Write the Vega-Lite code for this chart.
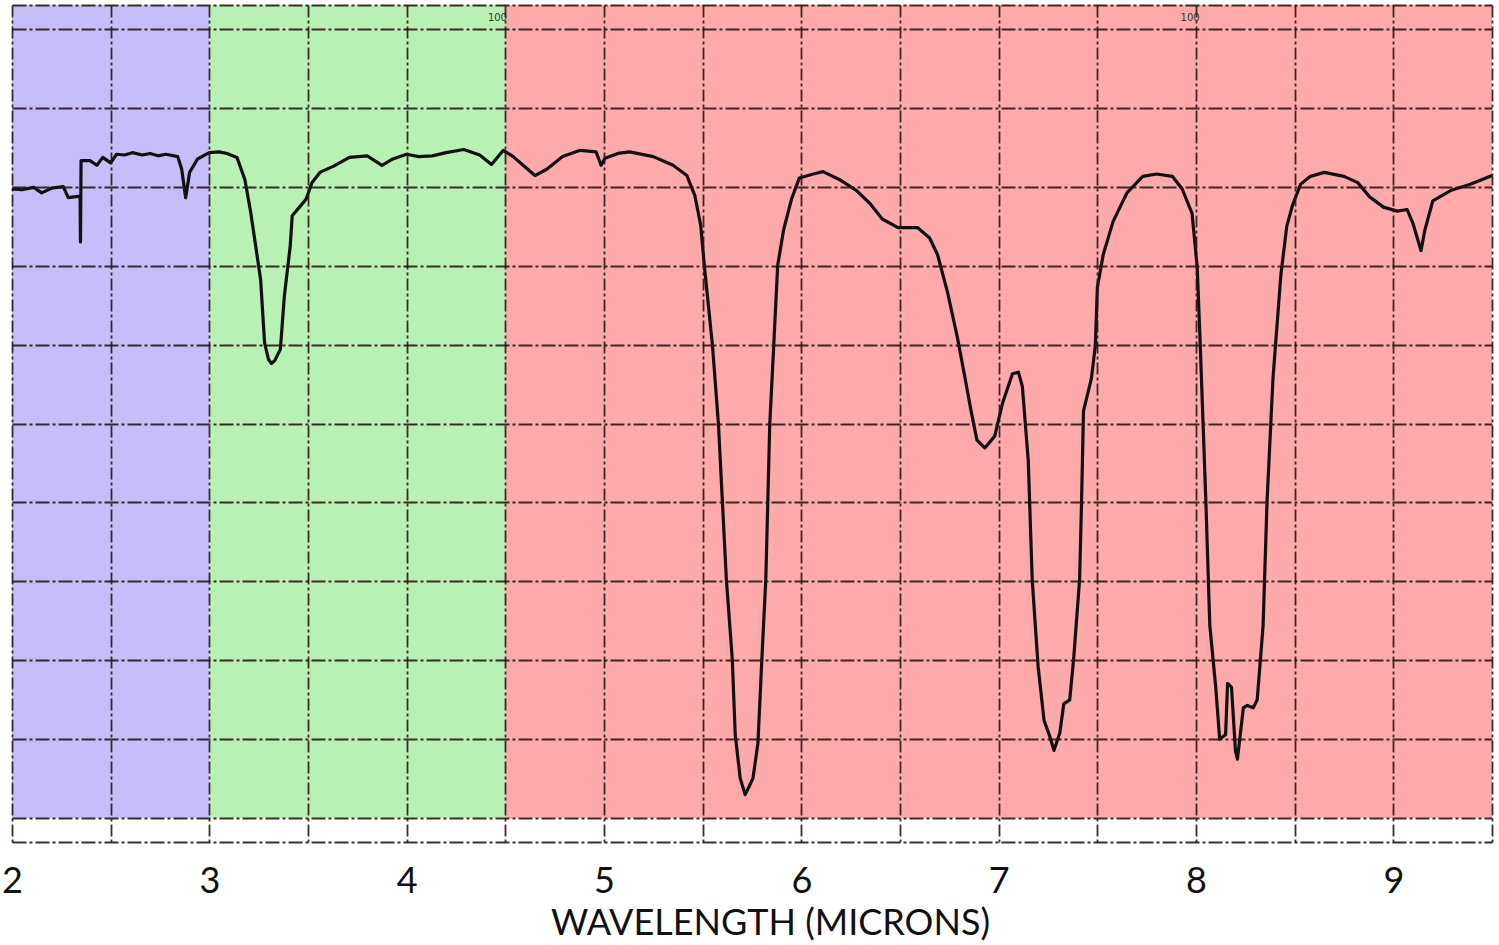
{
  "$schema": "https://vega.github.io/schema/vega-lite/v6.json",
  "width": 1480,
  "height": 837,
  "autosize": {"type": "none"},
  "padding": {"left": 12, "top": 5, "right": 7, "bottom": 103},
  "background": "white",
  "config": {"view": {"stroke": null}},
  "datasets": {
    "bands": [
      {"start": 2.0, "end": 3.0, "lo": 0, "hi": 103, "band": "a"},
      {"start": 3.0, "end": 4.5, "lo": 0, "hi": 103, "band": "b"},
      {"start": 4.5, "end": 9.5, "lo": 0, "hi": 103, "band": "c"}
    ],
    "notes": [
      {"wl": 4.46, "t": 101.3, "label": "100"},
      {"wl": 7.97, "t": 101.3, "label": "100"}
    ],
    "spectrum": [
      {"wl": 2.0, "t": 79.7}, {"wl": 2.05, "t": 79.6}, {"wl": 2.11, "t": 79.9}, {"wl": 2.15, "t": 79.2},
      {"wl": 2.2, "t": 79.8}, {"wl": 2.26, "t": 80.0}, {"wl": 2.285, "t": 78.6}, {"wl": 2.345, "t": 78.8},
      {"wl": 2.347, "t": 73.0}, {"wl": 2.35, "t": 83.3}, {"wl": 2.395, "t": 83.3}, {"wl": 2.43, "t": 82.7},
      {"wl": 2.46, "t": 83.7}, {"wl": 2.5, "t": 83.0}, {"wl": 2.53, "t": 84.1}, {"wl": 2.57, "t": 84.0},
      {"wl": 2.61, "t": 84.3}, {"wl": 2.66, "t": 84.0}, {"wl": 2.7, "t": 84.2}, {"wl": 2.74, "t": 83.9},
      {"wl": 2.78, "t": 84.1}, {"wl": 2.84, "t": 83.8}, {"wl": 2.86, "t": 82.2}, {"wl": 2.88, "t": 78.6},
      {"wl": 2.9, "t": 81.8}, {"wl": 2.94, "t": 83.5}, {"wl": 3.0, "t": 84.3}, {"wl": 3.05, "t": 84.4},
      {"wl": 3.09, "t": 84.2}, {"wl": 3.14, "t": 83.7}, {"wl": 3.18, "t": 80.9}, {"wl": 3.21, "t": 76.7},
      {"wl": 3.23, "t": 73.3}, {"wl": 3.26, "t": 68.2}, {"wl": 3.28, "t": 60.2}, {"wl": 3.3, "t": 58.1},
      {"wl": 3.315, "t": 57.6}, {"wl": 3.33, "t": 57.9}, {"wl": 3.36, "t": 59.4}, {"wl": 3.38, "t": 66.1},
      {"wl": 3.41, "t": 72.5}, {"wl": 3.42, "t": 76.3}, {"wl": 3.46, "t": 77.5}, {"wl": 3.49, "t": 78.4},
      {"wl": 3.52, "t": 80.5}, {"wl": 3.56, "t": 81.8}, {"wl": 3.63, "t": 82.6}, {"wl": 3.71, "t": 83.7},
      {"wl": 3.8, "t": 83.9}, {"wl": 3.875, "t": 82.7}, {"wl": 3.93, "t": 83.5}, {"wl": 4.0, "t": 84.1},
      {"wl": 4.06, "t": 83.8}, {"wl": 4.13, "t": 83.9}, {"wl": 4.2, "t": 84.3}, {"wl": 4.29, "t": 84.7},
      {"wl": 4.37, "t": 84.0}, {"wl": 4.43, "t": 82.8}, {"wl": 4.49, "t": 84.6}, {"wl": 4.54, "t": 83.8},
      {"wl": 4.59, "t": 82.7}, {"wl": 4.65, "t": 81.4}, {"wl": 4.71, "t": 82.2}, {"wl": 4.79, "t": 83.8},
      {"wl": 4.88, "t": 84.6}, {"wl": 4.96, "t": 84.4}, {"wl": 4.985, "t": 82.7}, {"wl": 5.005, "t": 83.6},
      {"wl": 5.07, "t": 84.2}, {"wl": 5.13, "t": 84.4}, {"wl": 5.25, "t": 83.8}, {"wl": 5.35, "t": 82.7},
      {"wl": 5.42, "t": 81.4}, {"wl": 5.46, "t": 78.9}, {"wl": 5.49, "t": 75.1}, {"wl": 5.51, "t": 69.6},
      {"wl": 5.55, "t": 59.8}, {"wl": 5.58, "t": 49.9}, {"wl": 5.6, "t": 40.1}, {"wl": 5.62, "t": 30.3},
      {"wl": 5.65, "t": 20.2}, {"wl": 5.665, "t": 10.6}, {"wl": 5.69, "t": 5.1}, {"wl": 5.715, "t": 3.0},
      {"wl": 5.735, "t": 4.0}, {"wl": 5.755, "t": 5.1}, {"wl": 5.78, "t": 9.5}, {"wl": 5.8, "t": 20.2},
      {"wl": 5.82, "t": 30.3}, {"wl": 5.83, "t": 40.1}, {"wl": 5.84, "t": 49.9}, {"wl": 5.86, "t": 59.8},
      {"wl": 5.88, "t": 70.0}, {"wl": 5.91, "t": 74.5}, {"wl": 5.95, "t": 78.4}, {"wl": 5.99, "t": 81.1},
      {"wl": 6.06, "t": 81.6}, {"wl": 6.11, "t": 81.9}, {"wl": 6.2, "t": 80.8}, {"wl": 6.28, "t": 79.5},
      {"wl": 6.35, "t": 77.8}, {"wl": 6.41, "t": 75.9}, {"wl": 6.49, "t": 74.8}, {"wl": 6.59, "t": 74.8},
      {"wl": 6.65, "t": 73.5}, {"wl": 6.69, "t": 71.4}, {"wl": 6.74, "t": 66.7}, {"wl": 6.79, "t": 61.0},
      {"wl": 6.83, "t": 55.7}, {"wl": 6.86, "t": 51.6}, {"wl": 6.89, "t": 47.9}, {"wl": 6.93, "t": 46.9},
      {"wl": 6.98, "t": 48.4}, {"wl": 7.02, "t": 52.6}, {"wl": 7.07, "t": 56.3}, {"wl": 7.1, "t": 56.5},
      {"wl": 7.12, "t": 54.7}, {"wl": 7.15, "t": 45.3}, {"wl": 7.17, "t": 30.2}, {"wl": 7.2, "t": 19.2},
      {"wl": 7.23, "t": 12.4}, {"wl": 7.26, "t": 10.3}, {"wl": 7.28, "t": 8.6}, {"wl": 7.31, "t": 10.8},
      {"wl": 7.33, "t": 14.5}, {"wl": 7.36, "t": 15.0}, {"wl": 7.38, "t": 20.2}, {"wl": 7.41, "t": 30.2},
      {"wl": 7.42, "t": 40.1}, {"wl": 7.43, "t": 51.6}, {"wl": 7.47, "t": 55.7}, {"wl": 7.49, "t": 59.9},
      {"wl": 7.5, "t": 67.2}, {"wl": 7.53, "t": 71.4}, {"wl": 7.58, "t": 75.6}, {"wl": 7.65, "t": 79.2},
      {"wl": 7.73, "t": 81.3}, {"wl": 7.8, "t": 81.6}, {"wl": 7.88, "t": 81.3}, {"wl": 7.93, "t": 79.7},
      {"wl": 7.98, "t": 76.6}, {"wl": 8.006, "t": 69.8}, {"wl": 8.02, "t": 61.0}, {"wl": 8.05, "t": 40.1},
      {"wl": 8.07, "t": 24.4}, {"wl": 8.1, "t": 16.6}, {"wl": 8.12, "t": 10.0}, {"wl": 8.15, "t": 10.6},
      {"wl": 8.16, "t": 17.1}, {"wl": 8.18, "t": 16.6}, {"wl": 8.2, "t": 8.5}, {"wl": 8.21, "t": 7.5},
      {"wl": 8.24, "t": 14.0}, {"wl": 8.26, "t": 14.3}, {"wl": 8.29, "t": 14.0}, {"wl": 8.31, "t": 15.0},
      {"wl": 8.34, "t": 24.4}, {"wl": 8.36, "t": 40.1}, {"wl": 8.39, "t": 55.7}, {"wl": 8.43, "t": 68.8},
      {"wl": 8.46, "t": 75.0}, {"wl": 8.49, "t": 77.7}, {"wl": 8.53, "t": 80.3}, {"wl": 8.58, "t": 81.3},
      {"wl": 8.65, "t": 81.8}, {"wl": 8.75, "t": 81.3}, {"wl": 8.82, "t": 80.5}, {"wl": 8.88, "t": 78.7},
      {"wl": 8.95, "t": 77.4}, {"wl": 9.02, "t": 76.9}, {"wl": 9.07, "t": 77.1}, {"wl": 9.1, "t": 75.3},
      {"wl": 9.14, "t": 71.9}, {"wl": 9.16, "t": 74.5}, {"wl": 9.2, "t": 78.2}, {"wl": 9.29, "t": 79.5},
      {"wl": 9.39, "t": 80.3}, {"wl": 9.46, "t": 81.0}, {"wl": 9.5, "t": 81.4}
    ]
  },
  "layer": [
    {
      "data": {"name": "bands"},
      "mark": {"type": "rect"},
      "encoding": {
        "x": {
          "field": "start", "type": "quantitative",
          "scale": {"domain": [2, 9.5], "nice": false, "zero": false},
          "axis": {
            "values": [2, 2.5, 3, 3.5, 4, 4.5, 5, 5.5, 6, 6.5, 7, 7.5, 8, 8.5, 9, 9.5],
            "labelExpr": "datum.value % 1 === 0 ? format(datum.value, 'd') : ''",
            "title": "WAVELENGTH (MICRONS)",
            "titleFont": "Lato", "titleFontSize": 36, "titleFontWeight": "normal", "titleColor": "#111",
            "titleX": 758, "titleY": 92, "titleBaseline": "alphabetic", "titleAlign": "center", "titleAnchor": null,
            "labelFont": "Lato", "labelFontSize": 36, "labelColor": "#111",
            "labelBaseline": "alphabetic", "labelPadding": 50, "labelFlush": false, "labelOverlap": false,
            "ticks": false, "tickSize": 0, "domain": false,
            "grid": true, "gridColor": "#2a1616", "gridWidth": 1.8, "gridDash": [12, 3, 3, 3], "gridOpacity": 0.9,
            "zindex": 1
          }
        },
        "x2": {"field": "end"},
        "y": {
          "field": "lo", "type": "quantitative",
          "scale": {"domain": [-3, 103], "nice": false, "zero": false},
          "axis": {
            "values": [-3, 0, 10, 20, 30, 40, 50, 60, 70, 80, 90, 100, 103],
            "labels": false, "ticks": false, "domain": false, "title": null,
            "grid": true, "gridColor": "#2a1616", "gridWidth": 1.8, "gridDash": [14, 3, 3, 3], "gridOpacity": 0.9,
            "zindex": 1
          }
        },
        "y2": {"field": "hi"},
        "color": {
          "field": "band", "type": "nominal",
          "scale": {"domain": ["a", "b", "c"], "range": ["#c5bef8", "#b9f1b4", "#ffaaaa"]},
          "legend": null
        }
      }
    },
    {
      "data": {"name": "spectrum"},
      "mark": {"type": "line", "color": "#111111", "strokeWidth": 3.2, "strokeJoin": "round"},
      "encoding": {
        "x": {"field": "wl", "type": "quantitative"},
        "y": {"field": "t", "type": "quantitative"}
      }
    },
    {
      "data": {"name": "notes"},
      "mark": {"type": "text", "font": "DejaVu Sans", "fontSize": 10, "color": "#333", "baseline": "middle", "align": "center"},
      "encoding": {
        "x": {"field": "wl", "type": "quantitative"},
        "y": {"field": "t", "type": "quantitative"},
        "text": {"field": "label"}
      }
    }
  ]
}
